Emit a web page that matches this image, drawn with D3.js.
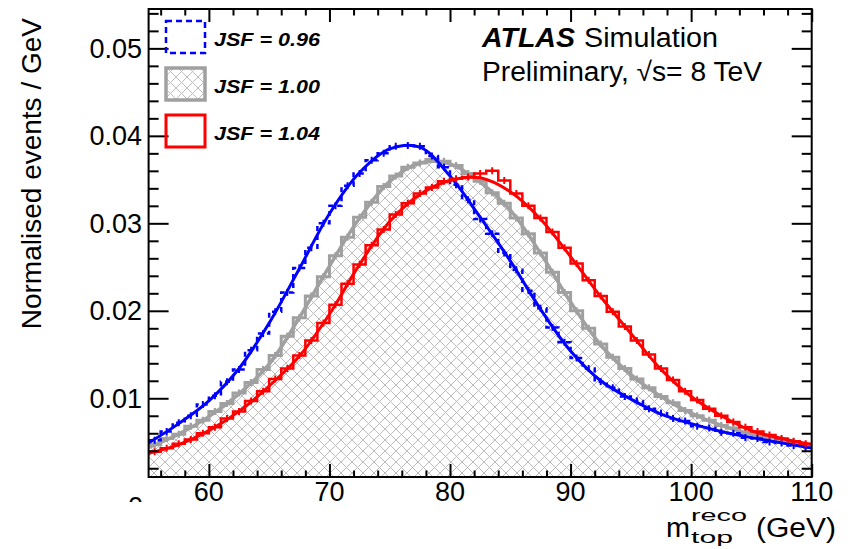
<!DOCTYPE html>
<html>
<head>
<meta charset="utf-8">
<script src="https://cdn.jsdelivr.net/npm/d3@7/dist/d3.min.js"></script>
<style>
  body { margin: 0; background: #fff; }
  text { font-family: "Liberation Sans", Arial, Helvetica, sans-serif; }
</style>
</head>
<body>
<svg id="chart" width="850" height="549"></svg>
<script>
// histogram bins: 1 GeV wide, 55 -> 110 GeV
var binStart = 55;
var binWidth = 1;

var hist096 = [0.0052, 0.0062, 0.0072, 0.0080, 0.0093, 0.0103, 0.0119, 0.0133, 0.0155, 0.0174,
  0.0199, 0.0221, 0.0249, 0.0272, 0.0300, 0.0320, 0.0343, 0.0357, 0.0372, 0.0380,
  0.0388, 0.0389, 0.0388, 0.0377, 0.0364, 0.0344, 0.0327, 0.0305, 0.0288, 0.0266,
  0.0247, 0.0223, 0.0203, 0.0181, 0.0164, 0.0146, 0.0134, 0.0119, 0.0112, 0.0102,
  0.0097, 0.0088, 0.0083, 0.0077, 0.0074, 0.0068, 0.0066, 0.0061, 0.0060, 0.0055,
  0.0054, 0.0050, 0.0049, 0.0046, 0.0044];

var hist100 = [0.0047, 0.0054, 0.0059, 0.0068, 0.0075, 0.0085, 0.0094, 0.0106, 0.0118, 0.0133,
  0.0149, 0.0171, 0.0192, 0.0217, 0.0239, 0.0263, 0.0284, 0.0307, 0.0324, 0.0342,
  0.0354, 0.0364, 0.0369, 0.0373, 0.0371, 0.0366, 0.0357, 0.0348, 0.0335, 0.0323,
  0.0306, 0.0288, 0.0266, 0.0244, 0.0221, 0.0200, 0.0180, 0.0162, 0.0147, 0.0134,
  0.0122, 0.0112, 0.0102, 0.0095, 0.0086, 0.0080, 0.0075, 0.0069, 0.0066, 0.0061,
  0.0058, 0.0055, 0.0053, 0.0050, 0.0047];

var hist104 = [0.0039, 0.0043, 0.0048, 0.0053, 0.0060, 0.0067, 0.0077, 0.0085, 0.0097, 0.0108,
  0.0122, 0.0134, 0.0149, 0.0166, 0.0186, 0.0207, 0.0231, 0.0253, 0.0275, 0.0293,
  0.0310, 0.0323, 0.0334, 0.0341, 0.0348, 0.0351, 0.0353, 0.0357, 0.0360, 0.0349,
  0.0334, 0.0320, 0.0306, 0.0290, 0.0272, 0.0254, 0.0235, 0.0217, 0.0199, 0.0182,
  0.0166, 0.0150, 0.0134, 0.0121, 0.0108, 0.0098, 0.0088, 0.0080, 0.0073, 0.0067,
  0.0062, 0.0058, 0.0054, 0.0051, 0.0048];

var binErr = 0.0004;

// fitted curves, read at these masses
var fitMass = [55, 57.5, 60, 62.5, 65, 67.5, 70, 72.5, 75, 77.5, 80, 82.5, 85, 87.5, 90, 92.5, 95, 97.5, 100, 102.5, 105, 107.5, 110];
var fit096 = [0.0049, 0.0071, 0.0097, 0.0134, 0.0186, 0.0248, 0.0311, 0.0358, 0.0385, 0.0387, 0.0354, 0.0307, 0.0257, 0.0202, 0.0154, 0.0120, 0.0099, 0.0082, 0.0071, 0.0062, 0.0055, 0.0049, 0.0043];
var fit100 = [0.0044, 0.0059, 0.0079, 0.0105, 0.0139, 0.0192, 0.0251, 0.0306, 0.0348, 0.0369, 0.0368, 0.0347, 0.0315, 0.0266, 0.0210, 0.0161, 0.0127, 0.0102, 0.0083, 0.0069, 0.0059, 0.0053, 0.0046];
var fit104 = [0.0037, 0.0047, 0.0063, 0.0085, 0.0114, 0.0148, 0.0196, 0.0253, 0.0302, 0.0333, 0.0349, 0.0352, 0.0336, 0.0305, 0.0262, 0.0216, 0.0174, 0.0133, 0.0102, 0.0080, 0.0063, 0.0054, 0.0047];

var xMajor = [60, 70, 80, 90, 100, 110];
var yMajor = [0.01, 0.02, 0.03, 0.04, 0.05];
var legendLabels = ['JSF = 0.96', 'JSF = 1.00', 'JSF = 1.04'];

var blue = '#0000ff', red = '#ff0000', grey = '#a0a0a0';

var frame = { left: 148.6, right: 811.7, top: 9, bottom: 477 };

var x = d3.scaleLinear().domain([55, 110]).range([frame.left, frame.right]);
var y = d3.scaleLinear().domain([0.001, 0.0545]).range([frame.bottom, frame.top]);

var svg = d3.select('#chart');
var defs = svg.append('defs');

// cross hatch for the JSF = 1.00 histogram
var hatch = defs.append('pattern')
  .attr('id', 'hatch')
  .attr('patternUnits', 'userSpaceOnUse')
  .attr('width', 11).attr('height', 11);
hatch.append('path')
  .attr('d', 'M0,0 L11,11 M11,0 L0,11 M-1,10 L1,12 M10,-1 L12,1 M-1,1 L1,-1 M10,12 L12,10')
  .attr('stroke', '#bcbcbc').attr('stroke-width', 1).attr('fill', 'none');

defs.append('clipPath').attr('id', 'plotclip')
  .append('rect')
  .attr('x', frame.left).attr('y', frame.top)
  .attr('width', frame.right - frame.left).attr('height', frame.bottom - frame.top);

defs.append('clipPath').attr('id', 'zeroclip')
  .append('rect').attr('x', 100).attr('y', 480).attr('width', 48).attr('height', 22);

var stepPoints = function (values) {
  var pts = [];
  values.forEach(function (v, i) {
    var lo = binStart + i * binWidth;
    pts.push([lo, v]);
    pts.push([lo + binWidth, v]);
  });
  return pts;
};

var stepLine = d3.line().x(function (d) { return x(d[0]); }).y(function (d) { return y(d[1]); });
var stepArea = d3.area()
  .x(function (d) { return x(d[0]); })
  .y0(frame.bottom)
  .y1(function (d) { return y(d[1]); });
var fitLine = d3.line()
  .x(function (d) { return x(d[0]); })
  .y(function (d) { return y(d[1]); })
  .curve(d3.curveCatmullRom.alpha(0.5));

var plot = svg.append('g').attr('clip-path', 'url(#plotclip)');

var drawHist = function (values, color, width, dash) {
  var g = plot.append('g');
  g.append('path')
    .attr('d', stepLine(stepPoints(values)))
    .attr('fill', 'none')
    .attr('stroke', color)
    .attr('stroke-width', width)
    .attr('stroke-dasharray', dash || null);
  g.selectAll('line.err').data(values).enter().append('line')
    .attr('class', 'err')
    .attr('x1', function (d, i) { return x(binStart + (i + 0.5) * binWidth); })
    .attr('x2', function (d, i) { return x(binStart + (i + 0.5) * binWidth); })
    .attr('y1', function (d) { return y(d - binErr); })
    .attr('y2', function (d) { return y(d + binErr); })
    .attr('stroke', color)
    .attr('stroke-width', width * 0.8);
};

var drawFit = function (values, color, width) {
  plot.append('path')
    .attr('d', fitLine(fitMass.map(function (m, i) { return [m, values[i]]; })))
    .attr('fill', 'none')
    .attr('stroke', color)
    .attr('stroke-width', width);
};

// JSF = 1.00 : hatched histogram
plot.append('path')
  .attr('d', stepArea(stepPoints(hist100)))
  .attr('fill', 'url(#hatch)')
  .attr('stroke', 'none');
drawHist(hist100, grey, 3);
drawFit(fit100, grey, 3.5);

// JSF = 0.96 : dashed blue
drawHist(hist096, blue, 2.5, '5,4');
drawFit(fit096, blue, 3);

// JSF = 1.04 : red
drawHist(hist104, red, 2.5);
drawFit(fit104, red, 3);

// axes (ticks pointing inward, mirrored on top/right)
var xMinor = d3.range(56, 110, 2).filter(function (d) { return d % 10 !== 0; });
var yMinor = d3.range(1, 28).filter(function (k) { return k % 5 !== 0; }).map(function (k) { return k * 0.002; });

var styleAxis = function (g) {
  g.select('.domain').remove();
  g.selectAll('.tick line').attr('stroke', '#000').attr('stroke-width', 2);
};

svg.append('g').attr('transform', 'translate(0,' + frame.bottom + ')')
  .call(d3.axisBottom(x).tickValues(xMajor).tickSizeInner(-13).tickSizeOuter(0).tickFormat(''))
  .call(styleAxis);
svg.append('g').attr('transform', 'translate(0,' + frame.bottom + ')')
  .call(d3.axisBottom(x).tickValues(xMinor).tickSizeInner(-6.5).tickSizeOuter(0).tickFormat(''))
  .call(styleAxis);
svg.append('g').attr('transform', 'translate(0,' + frame.top + ')')
  .call(d3.axisTop(x).tickValues(xMajor).tickSizeInner(-13).tickSizeOuter(0).tickFormat(''))
  .call(styleAxis);
svg.append('g').attr('transform', 'translate(0,' + frame.top + ')')
  .call(d3.axisTop(x).tickValues(xMinor).tickSizeInner(-6.5).tickSizeOuter(0).tickFormat(''))
  .call(styleAxis);
svg.append('g').attr('transform', 'translate(' + frame.left + ',0)')
  .call(d3.axisLeft(y).tickValues(yMajor).tickSizeInner(-20).tickSizeOuter(0).tickFormat(''))
  .call(styleAxis);
svg.append('g').attr('transform', 'translate(' + frame.left + ',0)')
  .call(d3.axisLeft(y).tickValues(yMinor).tickSizeInner(-10).tickSizeOuter(0).tickFormat(''))
  .call(styleAxis);
svg.append('g').attr('transform', 'translate(' + frame.right + ',0)')
  .call(d3.axisRight(y).tickValues(yMajor).tickSizeInner(-20).tickSizeOuter(0).tickFormat(''))
  .call(styleAxis);
svg.append('g').attr('transform', 'translate(' + frame.right + ',0)')
  .call(d3.axisRight(y).tickValues(yMinor).tickSizeInner(-10).tickSizeOuter(0).tickFormat(''))
  .call(styleAxis);

svg.append('rect')
  .attr('x', frame.left).attr('y', frame.top)
  .attr('width', frame.right - frame.left).attr('height', frame.bottom - frame.top)
  .attr('fill', 'none').attr('stroke', '#000').attr('stroke-width', 2);

// tick labels
svg.append('g').selectAll('text').data(xMajor).enter().append('text')
  .attr('x', function (d) { return x(d); })
  .attr('y', 501)
  .attr('text-anchor', 'middle')
  .attr('font-size', 27)
  .text(function (d) { return d; });

svg.append('g').selectAll('text').data(yMajor).enter().append('text')
  .attr('x', 142)
  .attr('y', function (d) { return y(d) + 9.5; })
  .attr('text-anchor', 'end')
  .attr('font-size', 27)
  .text(d3.format('.2f'));

// the clipped "0" peeking below the y axis
svg.append('text')
  .attr('clip-path', 'url(#zeroclip)')
  .attr('x', 143).attr('y', 516)
  .attr('text-anchor', 'end')
  .attr('font-size', 27)
  .text('0');

// axis titles
svg.append('text')
  .attr('transform', 'translate(41,18) rotate(-90)')
  .attr('text-anchor', 'end')
  .attr('font-size', 28)
  .text('Normalised events / GeV');

var xt = svg.append('g').attr('font-size', 27);
xt.append('text').attr('x', 836).attr('y', 537).attr('text-anchor', 'end')
  .attr('textLength', 80).attr('lengthAdjust', 'spacingAndGlyphs').text('(GeV)');
xt.append('text').attr('x', 666).attr('y', 537)
  .attr('textLength', 24).attr('lengthAdjust', 'spacingAndGlyphs').text('m');
xt.append('text').attr('x', 691).attr('y', 521).attr('font-size', 17)
  .attr('textLength', 56).attr('lengthAdjust', 'spacingAndGlyphs').text('reco');
xt.append('text').attr('x', 691).attr('y', 543).attr('font-size', 17)
  .attr('textLength', 42).attr('lengthAdjust', 'spacingAndGlyphs').text('top');

// ATLAS label
svg.append('text').attr('x', 482).attr('y', 47)
  .attr('font-size', 27).attr('font-weight', 'bold').attr('font-style', 'italic')
  .attr('textLength', 93).attr('lengthAdjust', 'spacingAndGlyphs')
  .text('ATLAS');
svg.append('text').attr('x', 584).attr('y', 47).attr('font-size', 27)
  .attr('textLength', 134).attr('lengthAdjust', 'spacingAndGlyphs')
  .text('Simulation');
svg.append('text').attr('x', 482).attr('y', 81).attr('font-size', 27)
  .attr('textLength', 280).attr('lengthAdjust', 'spacingAndGlyphs')
  .text('Preliminary, \u221As= 8 TeV');

// legend
var legendY = [21, 68, 115];
var leg = svg.append('g');
leg.append('rect').attr('x', 166).attr('y', legendY[0]).attr('width', 39).attr('height', 32)
  .attr('fill', 'none').attr('stroke', blue).attr('stroke-width', 2.5).attr('stroke-dasharray', '6,4');
leg.append('rect').attr('x', 166).attr('y', legendY[1]).attr('width', 39).attr('height', 32)
  .attr('fill', 'url(#hatch)').attr('stroke', grey).attr('stroke-width', 3.5);
leg.append('rect').attr('x', 166).attr('y', legendY[2]).attr('width', 39).attr('height', 32)
  .attr('fill', 'none').attr('stroke', red).attr('stroke-width', 3);
leg.selectAll('text').data(legendLabels).enter().append('text')
  .attr('x', 214)
  .attr('y', function (d, i) { return legendY[i] + 25; })
  .attr('font-size', 19).attr('font-weight', 'bold').attr('font-style', 'italic')
  .attr('textLength', 106).attr('lengthAdjust', 'spacingAndGlyphs')
  .text(function (d) { return d; });
</script>
</body>
</html>
